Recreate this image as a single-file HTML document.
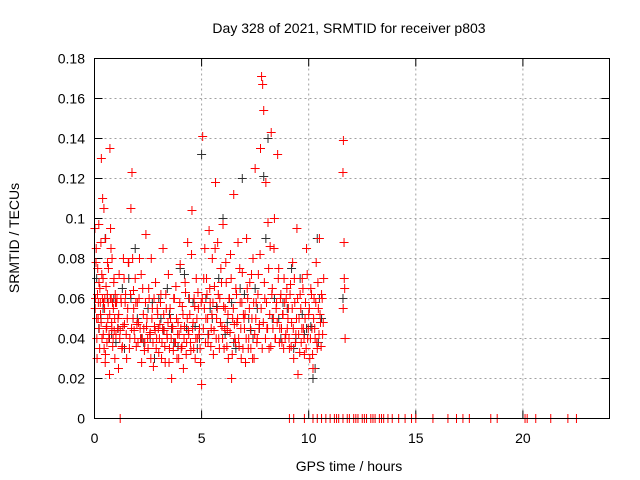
<!DOCTYPE html>
<html><head><meta charset="utf-8"><style>
body{margin:0;background:#fff;}
svg{display:block;font-family:"Liberation Sans",sans-serif;}
</style></head><body>
<svg id="chart" width="640" height="480" viewBox="0 0 640 480">
<text x="349" y="33" font-size="14" text-anchor="middle">Day 328 of 2021, SRMTID for receiver p803</text>
<text x="19" y="238" font-size="14" text-anchor="middle" transform="rotate(-90 19 238)">SRMTID / TECUs</text>
<text x="349" y="471" font-size="14" text-anchor="middle">GPS time / hours</text>
<g id="grid"></g>
<g id="ticks"></g>
<g id="black"></g>
<g id="red"></g>
<rect x="94.5" y="58.5" width="515" height="360" fill="none" stroke="#000" stroke-width="1"/>
</svg>
<script>
const xTicks=[0,5,10,15,20];
const yTicks=[0,0.02,0.04,0.06,0.08,0.1,0.12,0.14,0.16,0.18];
const yTickLabels=["0","0.02","0.04","0.06","0.08","0.1","0.12","0.14","0.16","0.18"];
const redHours=[0.02,0.05,0.08,0.1,0.12,0.15,0.18,0.2,0.22,0.25,0.28,0.3,0.32,0.35,0.38,0.4,0.42,0.45,0.48,0.5,0.52,0.55,0.58,0.6,0.62,0.65,0.68,0.7,0.72,0.75,0.78,0.8,0.82,0.85,0.88,0.9,0.92,0.95,0.98,
1.0,1.05,1.1,1.12,1.15,1.2,1.25,1.3,1.35,1.4,1.45,1.5,1.55,1.6,1.65,1.7,1.75,1.8,1.82,1.85,1.9,1.95,2.0,2.05,2.1,2.15,2.2,2.25,2.3,2.35,2.4,2.45,2.5,2.55,2.6,2.65,2.7,2.75,2.8,2.85,2.9,2.95,
3.0,3.05,3.1,3.15,3.2,3.25,3.3,3.35,3.4,3.45,3.5,3.55,3.6,3.65,3.7,3.75,3.8,3.85,3.9,3.95,4.0,4.05,4.1,4.15,4.2,4.25,4.3,4.35,4.4,4.45,4.5,4.55,4.6,4.65,4.7,4.75,4.8,4.85,4.9,4.95,
5.0,5.05,5.1,5.15,5.2,5.25,5.3,5.35,5.4,5.45,5.5,5.55,5.6,5.65,5.7,5.75,5.8,5.85,5.9,5.95,6.0,6.05,6.1,6.15,6.2,6.25,6.3,6.35,6.4,6.45,6.5,6.55,6.6,6.65,6.7,6.75,6.8,6.85,6.9,6.95,
7.0,7.05,7.1,7.15,7.2,7.25,7.3,7.35,7.4,7.45,7.5,7.55,7.6,7.65,7.7,7.75,7.8,7.85,7.9,7.95,8.0,8.05,8.1,8.15,8.2,8.25,8.3,8.35,8.4,8.45,8.5,8.55,8.6,8.65,8.7,8.75,8.8,8.85,8.9,8.95,
9.0,9.05,9.1,9.15,9.2,9.25,9.3,9.35,9.4,9.45,9.5,9.55,9.6,9.65,9.7,9.75,9.8,9.85,9.9,9.95,10.0,10.05,10.1,10.15,10.2,10.25,10.3,10.35,10.4,10.45,10.5,10.55,10.6,10.65,10.7,11.6,11.62,11.65,11.68,11.7];
const redTec=[0.095,0.06,0.085,0.05,0.03,0.075,0.058,0.097,0.045,0.065,0.052,0.088,0.13,0.04,0.11,0.07,0.058,0.035,0.06,0.028,0.09,0.045,0.038,0.062,0.05,0.075,0.042,0.022,0.135,0.095,0.06,0.048,0.08,0.036,0.055,0.068,0.044,0.03,0.058,
0.042,0.06,0.05,0.025,0.072,0.044,0.058,0.036,0.08,0.047,0.062,0.03,0.055,0.078,0.04,0.105,0.123,0.05,0.064,0.044,0.07,0.036,0.058,0.048,0.08,0.04,0.028,0.065,0.045,0.038,0.092,0.05,0.035,0.06,0.043,0.08,0.055,0.026,0.046,0.068,0.04,0.052,
0.033,0.047,0.062,0.038,0.085,0.044,0.028,0.055,0.04,0.072,0.035,0.05,0.02,0.045,0.06,0.038,0.066,0.03,0.048,0.042,0.077,0.035,0.056,0.025,0.046,0.063,0.038,0.088,0.042,0.052,0.034,0.104,0.048,0.06,0.03,0.07,0.04,0.055,0.045,0.028,
0.017,0.141,0.07,0.085,0.05,0.062,0.038,0.094,0.058,0.045,0.08,0.032,0.066,0.118,0.05,0.088,0.04,0.06,0.075,0.046,0.097,0.035,0.055,0.068,0.044,0.03,0.06,0.082,0.02,0.05,0.112,0.04,0.065,0.048,0.088,0.036,0.058,0.03,0.073,0.052,
0.045,0.028,0.09,0.06,0.04,0.068,0.035,0.05,0.08,0.03,0.125,0.058,0.04,0.072,0.047,0.135,0.171,0.167,0.154,0.06,0.118,0.045,0.098,0.035,0.086,0.143,0.065,0.05,0.1,0.04,0.058,0.132,0.075,0.045,0.062,0.038,0.052,0.07,0.04,0.06,
0.045,0.055,0.035,0.067,0.048,0.078,0.03,0.058,0.042,0.095,0.022,0.05,0.062,0.038,0.07,0.045,0.032,0.058,0.085,0.04,0.052,0.03,0.065,0.045,0.025,0.06,0.04,0.078,0.035,0.055,0.09,0.048,0.062,0.042,0.07,0.123,0.139,0.088,0.065,0.04];
const redHours2=[0.03,0.07,0.11,0.14,0.17,0.21,0.24,0.27,0.31,0.34,0.37,0.41,0.44,0.47,0.51,0.54,0.57,0.61,0.64,0.67,0.71,0.74,0.77,0.81,0.84,0.87,0.91,0.94,0.97,
1.03,1.08,1.13,1.18,1.23,1.28,1.33,1.38,1.43,1.48,1.53,1.58,1.63,1.68,1.73,1.78,1.83,1.88,1.93,1.98,2.03,2.08,2.13,2.18,2.23,2.28,2.33,2.38,2.43,2.48,2.53,2.58,2.63,2.68,2.73,2.78,2.83,2.88,2.93,2.98,
3.03,3.08,3.13,3.18,3.23,3.28,3.33,3.38,3.43,3.48,3.53,3.58,3.63,3.68,3.73,3.78,3.83,3.88,3.93,3.98,4.03,4.08,4.13,4.18,4.23,4.28,4.33,4.38,4.43,4.48,4.53,4.58,4.63,4.68,4.73,4.78,4.83,4.88,4.93,4.98,
5.03,5.08,5.13,5.18,5.23,5.28,5.33,5.38,5.43,5.48,5.53,5.58,5.63,5.68,5.73,5.78,5.83,5.88,5.93,5.98,6.03,6.08,6.13,6.18,6.23,6.28,6.33,6.38,6.43,6.48,6.53,6.58,6.63,6.68,6.73,6.78,6.83,6.88,6.93,6.98,
7.03,7.08,7.13,7.18,7.23,7.28,7.33,7.38,7.43,7.48,7.53,7.58,7.63,7.68,7.73,7.78,7.83,7.88,7.93,7.98,8.03,8.08,8.13,8.18,8.23,8.28,8.33,8.38,8.43,8.48,8.53,8.58,8.63,8.68,8.73,8.78,8.83,8.88,8.93,8.98,
9.03,9.08,9.13,9.18,9.23,9.28,9.33,9.38,9.43,9.48,9.53,9.58,9.63,9.68,9.73,9.78,9.83,9.88,9.93,9.98,10.03,10.08,10.13,10.18,10.23,10.28,10.33,10.38,10.43,10.48,10.53,10.58,10.63,10.68,11.61,11.66];
const redTec2=[0.055,0.078,0.04,0.062,0.05,0.068,0.035,0.058,0.048,0.072,0.06,0.042,0.105,0.055,0.032,0.066,0.046,0.078,0.058,0.04,0.052,0.06,0.085,0.045,0.058,0.04,0.07,0.05,0.062,
0.058,0.045,0.052,0.04,0.06,0.035,0.046,0.07,0.058,0.042,0.05,0.078,0.035,0.062,0.045,0.08,0.055,0.04,0.058,0.047,0.038,0.06,0.045,0.072,0.04,0.052,0.034,0.058,0.046,0.04,0.065,0.042,0.03,0.05,0.038,0.06,0.044,0.035,0.055,0.045,
0.04,0.058,0.03,0.045,0.052,0.036,0.062,0.042,0.048,0.028,0.055,0.04,0.046,0.034,0.06,0.038,0.05,0.042,0.03,0.058,0.045,0.036,0.052,0.04,0.068,0.032,0.05,0.044,0.06,0.038,0.082,0.045,0.035,0.056,0.04,0.05,0.063,0.042,0.035,0.058,
0.06,0.045,0.055,0.038,0.07,0.05,0.042,0.065,0.036,0.052,0.058,0.044,0.085,0.04,0.055,0.062,0.035,0.048,0.068,0.04,0.056,0.045,0.078,0.036,0.052,0.06,0.043,0.07,0.032,0.055,0.047,0.038,0.062,0.05,0.04,0.075,0.045,0.058,0.035,0.05,
0.052,0.04,0.065,0.035,0.055,0.045,0.072,0.03,0.058,0.042,0.05,0.038,0.062,0.045,0.082,0.055,0.035,0.048,0.068,0.04,0.058,0.045,0.075,0.052,0.036,0.062,0.045,0.085,0.04,0.055,0.048,0.07,0.038,0.06,0.045,0.052,0.035,0.058,0.042,0.065,
0.05,0.04,0.062,0.036,0.055,0.045,0.07,0.038,0.05,0.06,0.042,0.033,0.055,0.045,0.065,0.04,0.05,0.035,0.072,0.045,0.055,0.04,0.062,0.032,0.05,0.045,0.058,0.038,0.068,0.042,0.052,0.036,0.06,0.048,0.055,0.07];
const blackHours=[0.1,0.3,0.5,0.7,0.9,1.1,1.4,1.7,1.9,2.2,2.5,2.8,3.1,3.4,3.7,4.0,4.3,4.6,4.9,5.0,5.2,5.5,5.8,6.1,6.4,6.6,6.9,7.2,7.5,7.7,7.9,8.1,8.4,8.7,9.0,9.3,9.6,9.9,10.2,10.4,10.6,11.6,
0.2,0.6,1.0,1.6,2.0,2.6,3.0,3.6,4.2,4.8,5.4,6.0,6.8,7.4,8.0,8.6,9.2,9.8,10.3,10.5,
0.4,0.8,1.3,1.8,2.3,2.7,3.2,3.5,3.9,4.4,4.7,5.3,5.7,6.2,6.5,7.0,7.3,7.6,8.3,8.8,9.4,9.7,10.1,10.45];
const blackTec=[0.07,0.05,0.09,0.04,0.06,0.045,0.035,0.06,0.085,0.04,0.055,0.03,0.05,0.065,0.038,0.075,0.045,0.058,0.04,0.132,0.06,0.05,0.07,0.042,0.058,0.035,0.12,0.05,0.065,0.045,0.121,0.14,0.06,0.04,0.055,0.035,0.07,0.045,0.02,0.09,0.05,0.06,
0.045,0.06,0.038,0.07,0.05,0.04,0.06,0.045,0.072,0.035,0.055,0.1,0.065,0.04,0.09,0.05,0.075,0.042,0.025,0.06,
0.055,0.042,0.065,0.05,0.038,0.058,0.044,0.052,0.036,0.06,0.046,0.042,0.056,0.048,0.038,0.062,0.044,0.055,0.05,0.058,0.04,0.052,0.046,0.038];
const zeroHours=[1.2,9.1,9.3,9.8,10.2,10.4,10.6,10.8,11.0,11.2,11.3,11.4,11.6,11.8,11.9,12.1,12.2,12.3,12.5,12.6,12.7,12.9,13.0,13.1,13.3,13.4,13.5,13.7,13.9,14.2,14.5,14.8,15.0,15.8,16.5,16.9,17.2,17.5,18.5,18.8,20.1,20.2,20.6,21.3,22.1,22.5];
const NS="http://www.w3.org/2000/svg";
const X=h=>94.5+h*21.42, Y=v=>418.5-v*2000;
function mk(tag,attrs,parent){const e=document.createElementNS(NS,tag);for(const k in attrs)e.setAttribute(k,attrs[k]);parent.appendChild(e);return e;}
const grid=document.getElementById('grid'),ticks=document.getElementById('ticks');
xTicks.forEach(t=>{const x=X(t);
 if(t>0){const g=mk('line',{x1:x,x2:x,y1:58.5,y2:418.5,stroke:'#a0a0a0','stroke-dasharray':'2,3'},grid);}
 mk('line',{x1:x,x2:x,y1:418.5,y2:410.5,stroke:'#000'},ticks);mk('line',{x1:x,x2:x,y1:58.5,y2:66.5,stroke:'#000'},ticks);
 const l=mk('text',{x:x,y:443,'font-size':14,'text-anchor':'middle'},ticks);l.textContent=t;
 
 });
yTicks.forEach((t,i)=>{const y=Y(t);
 if(t>0&&t<0.18){const g=mk('line',{x1:94.5,x2:609.5,y1:y,y2:y,stroke:'#a0a0a0','stroke-dasharray':'2,3'},grid);}
 mk('line',{x1:94.5,x2:102.5,y1:y,y2:y,stroke:'#000'},ticks);mk('line',{x1:601.5,x2:609.5,y1:y,y2:y,stroke:'#000'},ticks);
 const l=mk('text',{x:85,y:y+5,'font-size':14,'text-anchor':'end'},ticks);l.textContent=yTickLabels[i];
 
 });
function plus(g,h,v,c){const x=X(h),y=Y(v);
 const p=mk('path',{d:`M${x-4.5},${y}H${x+4.5}M${x},${y-4.5}V${y+4.5}`,stroke:c,'stroke-width':1,fill:'none'},g);
 
 }
const gb=document.getElementById('black'),gr=document.getElementById('red');
blackHours.forEach((h,i)=>plus(gb,h,blackTec[i],'#303030'));
redHours.forEach((h,i)=>plus(gr,h,redTec[i],'#ff0000'));
redHours2.forEach((h,i)=>plus(gr,h,redTec2[i],'#ff0000'));
zeroHours.forEach(h=>plus(gr,h,0,'#ff0000'));
</script>
</body></html>
